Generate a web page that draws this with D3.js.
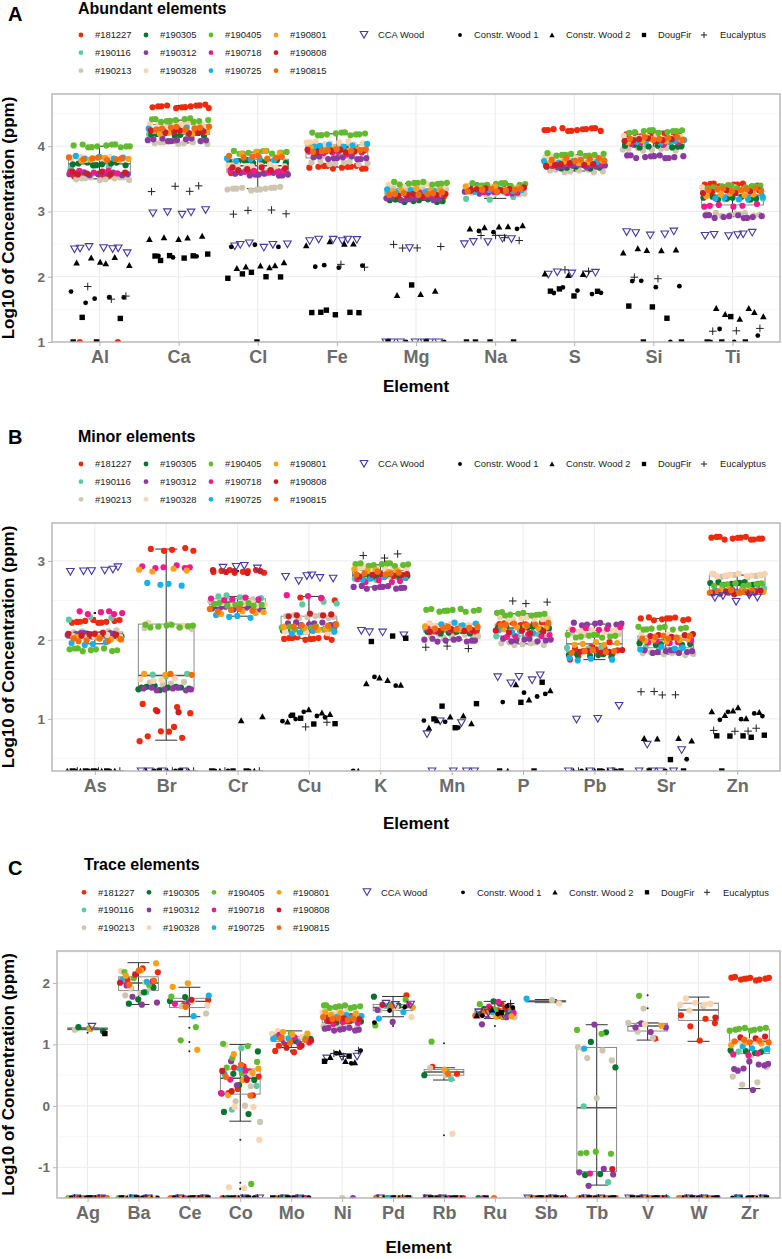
<!DOCTYPE html>
<html>
<head>
<meta charset="utf-8">
<script src="https://cdn.jsdelivr.net/npm/d3@7"></script>
<style>
  body { margin: 0; background: #fff; overflow: hidden; }
  svg text { font-family: "Liberation Sans", Arial, Helvetica, sans-serif; }
</style>
</head>
<body>
<script>
// ---- data: log10 of concentration (ppm) ----
// "v*n" = n replicate readings at v, "z" = zero reading (drawn on the bottom edge)
const sampleIds = ["#181227", "#190116", "#190213", "#190305", "#190312", "#190328",
                   "#190405", "#190718", "#190725", "#190801", "#190808", "#190815"];
const sampleColors = ["#EE2A0E", "#5DC9A3", "#CFC6B2", "#067530", "#8B3A9E", "#F8D4B0",
                      "#62BB2F", "#EC1C8C", "#16B1EB", "#F9A01A", "#D01C24", "#F26B10"];
const refNames = ["CCA Wood", "Constr. Wood 1", "Constr. Wood 2", "DougFir", "Eucalyptus"];

const abundantElements = ["Al", "Ca", "Cl", "Fe", "Mg", "Na", "S", "Si", "Ti"];
const abundantSamples = [
  ["3.55*9 z z", "3.68*3", "3.50*10", "3.73*9", "3.58*10", "3.82*9", "4.00*11", "3.60*6", "3.83*5", "3.80*5 z", "3.59*6", "3.81*7"],
  ["4.61*12", "4.20*3", "4.05*9", "4.18*9", "4.10*10", "4.33*9", "4.40*11", "4.22*5", "4.26*5", "4.21*6", "4.22*7", "4.28*8"],
  ["3.60*7", "3.62*3", "3.35*11", "3.76*9", "3.57*10", "3.70*9", "3.91*10", "3.62*6", "3.80*5", "3.90*4", "3.65*6", "3.83*7"],
  ["3.68*11", "3.90*3", "3.75*8", "3.95*9", "3.82*10", "4.05*9", "4.19*11", "3.90*6", "4.02*6", "3.95*5", "3.92*7", "3.93*7"],
  ["3.25*7", "3.30*3", "3.35*8", "3.17*9", "3.20*10", "3.40*8", "3.43*10", "3.27*5", "3.32*5", "3.33*5", "3.25*6", "3.28*7"],
  ["3.37*7", "3.20*3", "3.28*8", "3.38*8", "3.30*10", "3.38*8", "3.41*10", "3.30*5", "3.32*5", "3.36*5", "3.35*6", "3.33*7"],
  ["4.25*12", "3.70*3", "3.62*8", "3.68*8", "3.70*10", "3.82*9", "3.87*10", "3.72*5", "3.75*5", "3.76*5", "3.72*6", "3.80*7"],
  ["4.18*8", "4.02*3", "3.95*8", "4.00*9", "3.84*11", "4.14*9", "4.23*10", "4.05*6", "4.07*6", "4.08*5", "4.10*7", "4.12*7"],
  ["3.41*10", "3.20*3", "2.95*9", "3.20*8", "2.92*10", "3.35*9", "3.38*10", "3.10*6", "3.20*5", "3.25*5", "3.30*6", "3.33*8"]
];
const abundantRefs = [
  ["2.45 2.44 2.46 2.35 2.47 2.45 2.44", "1.65 1.80 1.70 1.60 1.67", "2.20 2.23 2.30 2.28 2.15 2.22", "1.38 1.35 z z", "1.66 1.84 1.68"],
  ["3.00 3.00 2.99 3.01 2.98", "2.33 2.31 2.28", "2.60 2.61 2.60 2.61 2.60", "2.33 2.32 2.31 2.32 2.30 2.25", "3.38 3.36 3.32 3.31"],
  ["2.49 2.50 2.51 2.48 2.47 2.50", "2.45 2.47 2.48", "2.15 2.15 2.20 2.19 2.14 2.17", "2.05 2.00 2.01 2.04 1.98 z", "2.97 3.02 3.00 2.99"],
  ["2.57 2.58 2.56 2.55 2.57 2.58", "2.17 2.15 2.16 2.16", "2.50 2.52 2.50 2.51", "1.45 1.43 1.44 1.46 1.45 1.47", "2.17 2.20"],
  ["2.43 z*7", "z z", "1.75 1.72 1.77", "1.85 z z", "2.43 2.44 2.46 2.50"],
  ["2.55 2.58 2.52 2.53 2.60", "2.70 2.72 2.71", "2.75 2.77 2.74 2.76 2.78", "z*4", "2.60 2.62 2.53 2.65"],
  ["2.07 2.05 2.08 2.05 2.04", "1.82 1.78 1.80 1.75 1.72", "2.05 2.06 2.04", "1.80 1.75 1.72 1.78", "2.07 2.08"],
  ["2.67 2.68 2.66 2.70 2.65", "1.92 1.88 1.85 1.93 z", "2.43 2.38 2.40 2.42 2.44", "1.55 1.55 1.35 z z", "1.97 1.98"],
  ["2.65 2.64 2.66 2.65 2.64 2.65", "1.18 1.12 z z", "1.50 1.45 1.40 1.35 1.50 1.48", "1.40 z z z", "1.22 1.17 1.15"]
];

const minorElements = ["As", "Br", "Cr", "Cu", "K", "Mn", "P", "Pb", "Sr", "Zn"];
const minorSamples = [
  ["2.23*10", "2.27*3", "2.10*6", "2.06*8", "2.07*10", "2.05*6", "1.88*9", "2.34*6", "1.95*4", "2.02*4", "2.07*6", "2.00*6"],
  ["3.15*5 1.20 1.15 1.10 1.05 0.85 0.78 0.75 0.82 0.73 0.90", "1.55*3", "2.15*4 1.45*4", "1.40*6 1.38*3", "1.38*8", "2.20*3 1.50*4", "2.18*8", "2.92*6", "2.70*4", "2.88*4 1.55*2", "1.10*2", "1.55*2"],
  ["2.87*8", "2.55*4", "2.50*5", "2.43*6", "2.40*8", "2.45*8", "2.45*8", "2.52*5", "2.30*4", "2.35*4", "2.87*5", "2.38*5"],
  ["2.52*3 2.02*10", "2.47*3", "2.30*8", "2.12*6", "2.20*8", "2.10*7", "2.15*8", "2.55*3", "2.10*4", "2.15*4", "2.32*5", "2.18*5"],
  ["2.80*6", "2.78*3", "2.80*6", "2.82*9", "2.67*10", "2.90*8", "2.95*10", "2.75*5", "2.78*4", "2.88*5", "2.82*6", "2.85*6"],
  ["2.10*8", "2.15*3", "2.05*7", "2.10*7", "2.00*9", "2.20*8", "2.37*10", "2.12*5", "2.20*4", "2.15*5", "2.12*5", "2.15*6"],
  ["2.20*8", "2.05*3", "1.95*7", "2.15*7", "2.00*8", "2.27*8", "2.33*10", "2.05*5", "2.10*4", "2.15*5", "2.10*5", "2.20*6"],
  ["1.78 1.85 1.92 1.75 1.88*5 1.95", "1.90*3", "2.08*7", "1.80*6", "2.20*8", "2.12*7", "2.05*9", "2.15*5", "1.75*4", "1.95*5", "1.85*5", "1.85*5"],
  ["2.27*9", "1.90*3", "1.82*7", "1.95*7", "1.85*9", "2.05*8", "2.15*9", "1.98*5", "1.90*4", "2.00*5", "2.05*5", "2.03*6"],
  ["3.29*12", "2.65*3", "2.82*7", "2.71*8", "2.60*9", "2.82*9", "2.70*8", "2.62*5", "2.62*5", "2.63*5", "2.60*6", "2.61*6"]
];
const minorRefs = [
  ["2.90 2.87 2.85 2.90 2.88 2.92", "z*4", "z*4", "z*4", "z*3"],
  ["z*4", "z*2", "z*3", "z*2", "z*2"],
  ["2.92 2.93 2.91 2.92", "z*3", "1.02 0.96 z z", "z*3", "z*2"],
  ["2.80 2.78 2.80 2.75 2.77 2.80", "1.05 1.02 1.08 0.95 1.05 1.00", "1.05 1.10 0.98 1.08", "1.00 0.92 0.95 1.05", "0.95 0.88"],
  ["2.10 2.05 2.12 2.13", "1.42 1.52 z", "1.50 1.45 1.42 1.50 z", "2.05 1.97 2.00", "3.05 3.07 3.08"],
  ["0.83 0.96 0.97 z*4", "0.95 1.00 0.90", "0.98 0.93 1.05 0.90 1.04", "1.15 1.17 0.90 1.00", "1.88 1.90 1.92"],
  ["1.55 1.52 1.55 1.50 1.45", "1.30 1.35 1.22 1.28", "1.42 1.38 1.25 z", "1.45 1.23 z z", "2.48 2.50 2.47"],
  ["1.15 1.02 1.00 z*3", "z*3", "z*4", "z*2", "z*2"],
  ["0.68 0.60 z*4", "0.47 z", "0.76 0.75 0.73 0.74", "0.49 z z", "1.32 1.35 1.30 1.33"],
  ["2.55 2.52 2.50 2.54 2.56", "1.07 1.05 1.00 0.98 1.05", "1.12 1.10 1.00 1.03 1.10 1.15", "0.78 0.75 0.80 0.80 0.78 z", "0.90 0.85 0.85 0.83"]
];

const traceElements = ["Ag", "Ba", "Ce", "Co", "Mo", "Ni", "Pd", "Rb", "Ru", "Sb", "Tb", "V", "W", "Zr"];
const traceSamples = [
  ["z*5", "z*4", "1.24 z*4", "1.27 1.19 z*4", "z*5", "z*4", "1.27 z*4", "z*4", "z*4", "1.25 z*4", "z*4", "z*4"],
  ["2.20 2.25 2.05 1.95 z*2", "1.85 1.90 z", "1.85 1.80 1.90 z*2", "1.85 1.65 1.90 1.75 z*2", "1.75 1.70 1.65 1.95 z*2", "2.20 2.00 1.90 z*2", "2.17 1.95 2.10 z*2", "1.95 2.05 z", "2.05 2.00 z", "2.33 2.20 2.10 z", "2.15 2.00 z", "2.00 2.05 2.20 z"],
  ["1.62 1.75 z*3", "1.75 z*2", "1.60 1.53 z*3", "1.80 1.72 z*3", "1.70 z*3", "1.65 1.70 z*3", "1.78 1.27 1.04 z*2", "1.65 z*2", "1.80 1.45 z*2", "2.00 1.93 0.89 z*2", "1.72 z*2", "1.62 z*2"],
  ["0.55 0.60 0.50 0.65 0.20 0.15 0.30 z*2", "-0.08 0.35 0.95 z", "0.30 0.10 -0.25 0.00 z", "0.45 0.35 -0.10 -0.15 0.55 0.90 z*2", "0.50 0.35 0.20 0.45 0.70 z*2", "0.98 0.50 0.00 -0.55 -1.35 -1.35 0.00 z", "1.00 0.95 0.80 0.72 0.52 0.60 -1.25 z", "0.20 0.55 0.45 z", "0.60 0.50 z", "0.85 0.60 0.40 0.20 0.55 z", "0.55 0.45 0.25 z", "0.65 0.50 0.18 z"],
  ["0.90 0.95 1.00 1.05 0.88 0.97 z*2", "1.10 1.05 z", "1.12 1.08 1.14 z", "1.08 1.10 1.05 z*2", "1.05 1.12 1.00 1.08 z*2", "1.20 1.15 1.10 1.17 z", "1.15 1.12 1.18 1.10 z*2", "1.05 1.10 1.13 z", "1.10 1.08 z", "1.22 1.18 1.15 z", "1.00 0.95 1.05 z", "1.12 1.08 1.02 z"],
  ["1.45*5", "1.38*3", "1.30*5 z", "1.38*6", "1.25*8 z", "1.52*6", "1.62*9", "1.35*5", "1.45*4", "1.50*4", "1.40*5", "1.42*5"],
  ["1.77 1.65 z*2", "1.60 z", "1.60 1.55 z*2", "1.78 1.62 z*2", "1.37 1.55 z*2", "1.45 1.60 z", "1.75 1.65 1.30 z*2", "1.65 z", "1.40 1.55 z", "1.60 z", "1.67 z", "1.62 z*2"],
  ["0.62 0.55 z*2", "0.42 z*2", "0.50 0.60 z*2", "0.50 z*2", "z*3", "-0.48 z*2", "0.55 1.02 z*2", "z*2", "z*2", "0.58 z*2", "z*2", "0.50 z*2"],
  ["1.55 1.50 1.60 1.58 1.46 1.64", "1.55 1.62 1.50", "1.45 1.50 1.52 1.44", "1.65 1.55 1.50 1.70 z", "1.42 1.48 1.55 1.50 1.30 1.46", "1.50 1.45 1.47 1.53", "1.60 1.55 1.63 1.58", "1.62 1.50 1.67 z", "1.58 1.52 1.48", "1.48 1.55 1.45 1.43", "1.52 1.60 1.57", "1.45 1.50 1.55 1.62 z"],
  ["z*3", "z*3", "1.70 z*3", "z*3", "z*3", "1.68 z*3", "z*3", "z*3", "1.73 z*3", "z*3", "z*3", "z*3"],
  ["z*3", "-0.03 -1.22 z", "0.95 0.88 0.80 0.75 0.12 z", "1.22 1.05 0.62 -1.13 -1.10 z", "1.32 -1.10 -1.00 -1.29 -1.12 z", "0.95 z*2", "1.22 1.20 -0.75 -0.78 -0.76 -0.80 z", "-1.10 z*2", "0.95 z*2", "z*3", "-1.04 z*2", "z*3"],
  ["1.07 z*2", "z*3", "1.59 1.34 1.08 1.23 z", "z*3", "1.35 1.27 1.18 1.30 z", "1.32 z*2", "1.80 z*2", "z*3", "z*3", "1.30 z*2", "z*3", "z*3"],
  ["1.46 1.39 1.31 1.35 1.05 z", "z*3", "1.60 z*2", "z*3", "z*3", "1.77 1.67 1.67 1.62 1.67 1.56 z", "z*3", "z*3", "z*3", "z*3", "1.42 z*2", "z*3"],
  ["2.07*10 z", "0.90*2 z", "0.45 0.40 0.35 0.62 0.80 z", "0.88*4 z", "0.65 0.70 0.62 0.68 0.60 0.66 0.28 0.58 z", "1.05*4", "1.25*8 z", "0.85*3", "0.95*3 z", "1.00*3", "1.10*3", "1.05*5 z"]
];
const traceRefs = [
  ["1.28 z z", "z*2", "z*2", "1.18 z", "z*2"],
  ["z*2", "z*2", "z*2", "z*2", "z*2"],
  ["z*2", "z*2", "z*2", "z*2", "z*2"],
  ["z*2", "z*2", "z*2", "z*2", "z*2"],
  ["z*2", "z*2", "z*2", "z*2", "z*2"],
  ["0.80 0.78 0.80", "0.70 0.85 0.88", "0.75 0.80 0.70 0.85", "0.75 0.82", "0.85 0.88 0.83"],
  ["1.68 1.65 1.63 z", "1.62 1.55 1.34", "z*2", "z*2", "z*2"],
  ["z*2", "z*2", "z*2", "z*2", "z*2"],
  ["1.55 1.50 1.52", "1.58 1.52 1.48 1.62", "1.55 1.50", "1.53 z", "1.65"],
  ["z*2", "z*2", "z*2", "z*2", "z*2"],
  ["z*2", "z*2", "z*2", "z*2", "z*2"],
  ["z*2", "z*2", "z*2", "z*2", "z*2"],
  ["z*2", "z*2", "z*2", "z*2", "z*2"],
  ["z*2", "z*2", "z*2", "z*2", "z*2"]
];

// ---- layout ----
const width = 782, height = 1259, plotRight = 780;
const panels = [
  {letter: "A", title: "Abundant elements", elements: abundantElements, samples: abundantSamples, refs: abundantRefs,
   top: 94, bottom: 342, left: 52, domain: [1, 4.8], ticks: [1, 2, 3, 4],
   letterY: 21, titleY: 13.5, legendY: [35, 52.7, 70.7], legendDx: 0, xTitleY: 392},
  {letter: "B", title: "Minor elements", elements: minorElements, samples: minorSamples, refs: minorRefs,
   top: 523, bottom: 771, left: 52, domain: [0.34, 3.48], ticks: [1, 2, 3],
   letterY: 444, titleY: 442, legendY: [464, 481.7, 499.3], legendDx: 0, xTitleY: 829},
  {letter: "C", title: "Trace elements", elements: traceElements, samples: traceSamples, refs: traceRefs,
   top: 951, bottom: 1198, left: 57, domain: [-1.5, 2.52], ticks: [-1, 0, 1, 2],
   letterY: 875, titleY: 870, legendY: [892.3, 910, 927.7], legendDx: 3, xTitleY: 1253}
];

const ccaColor = "#453A9E";
const gridMajor = "#ebebeb", gridMinor = "#f5f5f5", borderColor = "#b3b3b3", tickText = "#6b6b6b";

const svg = d3.select("body").append("svg")
    .attr("width", width)
    .attr("height", height);

const parseVals = s => {
    const out = [];
    s.trim().split(/\s+/).forEach(tok => {
        const [v, n] = tok.split("*");
        const val = v === "z" ? -Infinity : +v;
        for (let i = 0; i < (n ? +n : 1); i++) out.push(val);
    });
    return out;
};
const frac = v => v - Math.floor(v);

// reference-material symbols
const drawSymbol = (g, type, x, y, s) => {
    if (type === 0) {
        g.append("path")
            .attr("d", `M${x - 3.8 * s},${y - 3 * s}L${x + 3.8 * s},${y - 3 * s}L${x},${y + 3.6 * s}Z`)
            .attr("fill", "none").attr("stroke", ccaColor).attr("stroke-width", 1.1);
    } else if (type === 1) {
        g.append("circle").attr("cx", x).attr("cy", y).attr("r", 2.4 * s).attr("fill", "#000");
    } else if (type === 2) {
        g.append("path")
            .attr("d", `M${x - 3.3 * s},${y + 2.8 * s}L${x + 3.3 * s},${y + 2.8 * s}L${x},${y - 3.2 * s}Z`)
            .attr("fill", "#000");
    } else if (type === 3) {
        g.append("rect").attr("x", x - 2.7 * s).attr("y", y - 2.7 * s)
            .attr("width", 5.4 * s).attr("height", 5.4 * s).attr("fill", "#000");
    } else {
        g.append("path")
            .attr("d", `M${x - 3.8 * s},${y}H${x + 3.8 * s}M${x},${y - 3.8 * s}V${y + 3.8 * s}`)
            .attr("stroke", "#222").attr("stroke-width", 1).attr("fill", "none");
    }
};

const drawPanel = (p, pi) => {
    const x = d3.scalePoint().domain(p.elements).range([p.left, plotRight]).padding(0.6);
    const y = d3.scaleLinear().domain(p.domain).range([p.bottom, p.top]);
    const step = x.step();
    const g = svg.append("g");

    // header
    g.append("text").attr("x", 8).attr("y", p.letterY)
        .attr("font-size", 20).attr("font-weight", "bold").text(p.letter);
    g.append("text").attr("x", 78 + p.legendDx + (pi === 2 ? 3 : 0)).attr("y", p.titleY)
        .attr("font-size", 16).attr("font-weight", "bold").text(p.title);

    // legend
    const lg = g.append("g");
    sampleIds.forEach((id, i) => {
        const col = Math.floor(i / 3), row = i % 3;
        const lx = 81 + p.legendDx + col * 65, ly = p.legendY[row];
        lg.append("circle").attr("cx", lx).attr("cy", ly).attr("r", 2.4).attr("fill", sampleColors[i]);
        lg.append("text").attr("x", lx + 14).attr("y", ly + 3.3)
            .attr("font-size", 9.4).attr("fill", "#1a1a1a").text(id);
    });
    const refX = [364, 460, 552, 644, 704], refLabelX = [378, 474, 566, 658, 720];
    refNames.forEach((name, i) => {
        const ly = p.legendY[0];
        drawSymbol(lg, i, refX[i] + p.legendDx, ly - (i === 0 ? 0.5 : 0), i === 0 ? 1 : 0.8);
        lg.append("text").attr("x", refLabelX[i] + p.legendDx).attr("y", ly + 3.3)
            .attr("font-size", 9.4).attr("fill", "#1a1a1a").text(name);
    });

    // grid
    const minor = [];
    p.ticks.forEach(t => [t - 0.5, t + 0.5].forEach(m => {
        if (m > p.domain[0] && m < p.domain[1] && !minor.includes(m)) minor.push(m);
    }));
    g.selectAll(".minor").data(minor).enter().append("line")
        .attr("x1", p.left).attr("x2", plotRight)
        .attr("y1", d => y(d)).attr("y2", d => y(d))
        .attr("stroke", gridMinor).attr("stroke-width", 0.8);
    g.selectAll(".hmajor").data(p.ticks.filter(t => t > p.domain[0])).enter().append("line")
        .attr("x1", p.left).attr("x2", plotRight)
        .attr("y1", d => y(d)).attr("y2", d => y(d))
        .attr("stroke", gridMajor).attr("stroke-width", 1);
    g.selectAll(".vmajor").data(p.elements).enter().append("line")
        .attr("x1", d => x(d)).attr("x2", d => x(d))
        .attr("y1", p.top).attr("y2", p.bottom)
        .attr("stroke", gridMajor).attr("stroke-width", 1);

    const clipId = "clip" + p.letter;
    svg.append("clipPath").attr("id", clipId).append("rect")
        .attr("x", p.left).attr("y", p.top)
        .attr("width", plotRight - p.left).attr("height", p.bottom - p.top);
    const plot = g.append("g").attr("clip-path", `url(#${clipId})`);

    p.elements.forEach((el, ei) => {
        const cx = x(el);
        const sampleVals = p.samples[ei].map(parseVals);
        const refVals = p.refs[ei].map(parseVals);

        // boxplot of the finite sample readings
        const vals = sampleVals.flat().filter(v => isFinite(v)).sort(d3.ascending);
        if (vals.length) {
            const q1 = d3.quantile(vals, 0.25), med = d3.quantile(vals, 0.5), q3 = d3.quantile(vals, 0.75);
            const iqr = q3 - q1;
            const lo = d3.min(vals.filter(v => v >= q1 - 1.5 * iqr));
            const hi = d3.max(vals.filter(v => v <= q3 + 1.5 * iqr));
            const bw = step * 0.78, cap = 11;
            plot.append("path")
                .attr("d", `M${cx},${y(lo)}V${y(hi)}M${cx - cap},${y(lo)}H${cx + cap}M${cx - cap},${y(hi)}H${cx + cap}`)
                .attr("stroke", "#333").attr("stroke-width", 1).attr("fill", "none");
            plot.append("rect")
                .attr("x", cx - bw / 2).attr("y", y(q3))
                .attr("width", bw).attr("height", Math.max(0.5, y(q1) - y(q3)))
                .attr("fill", "none").attr("stroke", "#8a8a8a").attr("stroke-width", 1);
            plot.append("line")
                .attr("x1", cx - bw / 2).attr("x2", cx + bw / 2)
                .attr("y1", y(med)).attr("y2", y(med))
                .attr("stroke", "#555").attr("stroke-width", 1.4);
            plot.selectAll(null).data(vals.filter(v => v < lo || v > hi)).enter().append("circle")
                .attr("cx", cx).attr("cy", d => y(d)).attr("r", 1).attr("fill", "#222");
        }

        // jittered points
        let k = 0;
        const jx = () => (frac((k + 1) * 0.6180339887 + ei * 0.37) - 0.5) * 2 * 0.39 * step;
        const jy = v => isFinite(v) ? y(v) + (frac((k + 1) * 0.7548776662 + ei * 0.21) - 0.5) * 3.6 : p.bottom;
        sampleVals.forEach((arr, si) => {
            arr.forEach(v => {
                plot.append("circle")
                    .attr("cx", cx + jx()).attr("cy", jy(v))
                    .attr("r", 3.1).attr("fill", sampleColors[si]);
                k++;
            });
        });
        refVals.forEach((arr, ri) => {
            arr.forEach(v => {
                drawSymbol(plot, ri, cx + jx(), jy(v), 1);
                k++;
            });
        });
    });

    // border
    g.append("rect")
        .attr("x", p.left).attr("y", p.top)
        .attr("width", plotRight - p.left).attr("height", p.bottom - p.top)
        .attr("fill", "none").attr("stroke", borderColor).attr("stroke-width", 1.4);

    // axes
    const ya = g.append("g").attr("transform", `translate(${p.left},0)`)
        .call(d3.axisLeft(y).tickValues(p.ticks).tickSize(4).tickPadding(3).tickFormat(d => String(d)));
    ya.select(".domain").remove();
    ya.selectAll("line").attr("stroke", borderColor);
    ya.selectAll("text").attr("font-size", 13.5).attr("font-weight", "bold").attr("fill", tickText)
        .attr("font-family", '"Liberation Sans", Arial, sans-serif');

    const xa = g.append("g").attr("transform", `translate(0,${p.bottom})`)
        .call(d3.axisBottom(x).tickSize(4).tickPadding(4));
    xa.select(".domain").remove();
    xa.selectAll("line").attr("stroke", borderColor);
    xa.selectAll("text").attr("font-size", 18).attr("font-weight", "bold").attr("fill", tickText)
        .attr("font-family", '"Liberation Sans", Arial, sans-serif');

    g.append("text")
        .attr("transform", `translate(14,${(p.top + p.bottom) / 2}) rotate(-90)`)
        .attr("text-anchor", "middle").attr("font-size", 17).attr("font-weight", "bold")
        .text("Log10 of Concentration (ppm)");
    g.append("text")
        .attr("x", (p.left + plotRight) / 2).attr("y", p.xTitleY)
        .attr("text-anchor", "middle").attr("font-size", 17).attr("font-weight", "bold")
        .text("Element");
};

panels.forEach(drawPanel);
</script>
</body>
</html>
